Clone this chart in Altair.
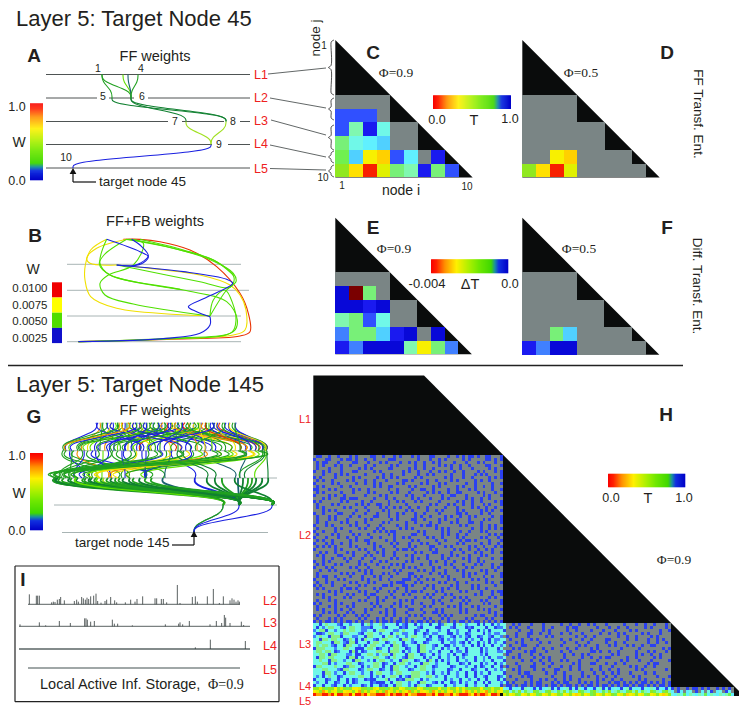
import altair as alt
import pandas as pd

alt.data_transformers.disable_max_rows()

# ---------- palette of the heat-map levels ----------
PAL = {'g': '#7a8585', 'R': '#7a0000', 'r': '#f82000', 'o': '#ffa000', 'O': '#ffd000', 'y': '#f8f000',
       'Y': '#ffe000', 'l': '#e0f000', 'm': '#90e820', 'n': '#70f050', 'p': '#78f078', 'q': '#80f8b0',
       'c': '#70f8e8', 'e': '#60f0ff', 'f': '#50d0ff', 'h': '#4080ff', 'b': '#3050ff', 'B': '#1a1af0',
       'D': '#0808d8', '#': '#2a40f0', 'G': '#86ee88'}
EDGE = {'a': '#1a20e0', 'g': '#20a020', 'l': '#60e000', 'y': '#f0e000', 'o': '#f09000', 'r': '#e83000',
        'd': '#108030', 't': '#1a6070', 'L': '#a0e020'}
BLACK = '#0a0c0c'
GRAY = '#a8b4b4'
INK = '#231f20'

# ---------- small matrices C, D, E, F (node j rows 5..10, node i cols 1..) ----------
C_rows = ['gggg', 'bbbg', 'bqBcgg', 'pcefgg', 'nfyObegB', 'mYrlpqBpb']
D_rows = ['gggg', 'gggg', 'gggggg', 'gggggg', 'ggyOgggg', 'mYrlggggg']
E_rows = ['gggg', 'DRpg', 'DDBDgg', 'qpbcgg', 'hppfBDgD', 'BhDDDqyph']
F_rows = ['gggg', 'gggg', 'gggggg', 'gggggg', 'ggpfgggg', 'BhDDggggg']

# ---------- large matrix H: observed pattern, '.' = no transfer (gray) ----------
H_L2 = [
 '.##..#..#...#.#....##..#...#.#...#.#...##....#..#.#.##.#..##...#',
 '#...##...#.##.#..#..#....###.......#...#..#.#.....#.#.....##.#.#',
 '.#.##...#....##...#...#.#....#..#.#..#..#.#....#...#...#.#...#..',
 '.#.#...#.#..#....#..#.....#.#.....#..#....#.#.#..#..#.....##...#',
 '.#...#...#.....#.#.#.....##.....#.#..#..#.....#..#...#.....#.#..',
 '#..#.#...#...##.....#.#.......#.#..#...#..#.#..#..#....#.#...#.#',
 '...#...#.#.#.....#.....#..#...#....#..#.#.....#...#...#.#.#....#',
 '#.#....#.....#.#.....#.#..#.#.....#.#.......#.#...#..#.....#.#.#',
 '.#.#..#....#.#...#..#...#.....##.#....#..#....#.#.....#.#..#....',
 '#.....#.#.....#..#..#.#.....#.#.....#.#...#.#......#..#.....#..#',
 '.#.#.....#..#.......#.#..##.....#.#.....#.#.....#.#...#..#..#...',
 '##...#.#.....#.#..#......#..#....#..##..#....#..#...#.#.....#..#',
 '.#.#.....#...#....#.#.....#.#...#.....#.#.#..#..##.....#.#...#..',
 '#....#.#..#......#....#.#......#.#...#.....#..##...#.....#.#...#',
 '...#.#...##.###.....#...#..#.....#.#...#...#.#.....#.#..#..#....',
 '#.#......#.#....#..#.....#..#.#...#.#.....#.....#.#..#..#....#.#',
 '.#....#.#.....#.#.#..##..#.....#.......#.#...#.#..#..#...#.#...#',
 '.#.#......#.#....#....#.#..#.#..#..#..#.....#...#....#.#..#..#..',
 '...#.#.#......#...#....#.#.....#.#....#..#.#....#.#.....#.#.#..#',
 '#..#....##...#...#...#...#..#.#...#..#....#.....##.#....#..#....',
 '.#...#.#....#..#....##...#..#.....#.#..#....#.#..#..#.#.....#..#',
 '.#...#.#...#.....#.#......#.#....##..#....#.#...#...#....#.#...#',
 '.#..#....#.#..#..#.....#.#.....#..#....#..#...#.#...##..#......#',
 '#...#.#.....#.#...#...#.....#..#....#.##.#.......#.#....#..#.#..',
 '.#.....#.#.....#.#...#.#.....#.#.#.......#.#.#.......#..#..#.#.#',
 '#..#...#....#.......#.#.#.##.......#.#.....#.#...#..#...#.#.....',
 '.#....#.#....#.#..#......#.#.....##..#.....#.#..#..#.......#.#.#',
 '#...#...#..#..#....#..#....#..#.#.....#.#..#....#.#.....#.#...#.',
 '.#.#..#.....#.#..##.....#..#.....#.#.....#..#....#.##.#....#...#',
 '#...#.#..#..#.....#.#.....#.#...#...#.#...#.....#.#.....#..#..#.',
 '.#.#.#.#....#.#.....#.#....#....#.#....##...#.#.....#.#..#...#.#',
 '#......#.#.....#.#..#..#....#.##.#.....#.#.....#.#..#..#..#.#...',
 '..#.#..#...#.#....#..#.#...#......#.#...##....#...#...#.#...#..#',
 '.#.#....##...#...#.#...#...#...#.#....#....#..#.#...#...#.#.....',
 '...#..#...#.#...#...#.....#.#....#.#..#....#.#....#.#..#....#..#',
 '#..#.#.....#...#...#..#.#......#.#.....#.#..#..#....#..#.#......',
 '.#.#...#.#.....#.#...#....#.#.#.....#..#....#.#...#...#.#...#..#',
 '#...#.#.....#.#...#....#.#....#.#.#.....#.#....#...#.#......#.#.',
 '..#..#.#.......#.#.#.......#.#.....#.#..#...#...#.#.....#.#..#..',
 '.#.......#.#.#...#.#...#.#..#...##.....#..#.#.....#.#.#...#....#',
 '.#.##..#....#...#...#.#...#.....#.#.#......#.#....#.#....#..#..#',
 '#...#...#.#.....#.#...#..#....###..#..#.#....#.#.....#.#..#.....',
 '.#..#.#.....#.#...#.#.....#.###...#.#.....#.#...#..#......#.#..#',
 '#.#...#...#....#.#.....##.#...##.#....#.#.....#.#....#.#.....#..',
 '.#.#.....#.##.#.....#.#.....#..#.....#..#..#.#..#....#.#..#.....',
 '.....#.#.#.....#.#...#...#.#...#.##.#....#.#.....#.#....#...#.##',
 '.#.#...#...#.#...#.##.....#...#.#.....#.#...#.#.......#.#...#..#',
 '...#.#....#.#.....#..#..#..#......#..#.#...#...#.#.#.......#.#..',
 '.#...#.#.......#.#...#.#.....#.#.#......#.#...#...#.#...#.#....#',
 '#.#....#.#...#.....#.#.....#.#...#..#...#..#.....#.#.....#.#...#',
 '.#...#.#...#.#......#.#...#..#.#.....#.#.....#.#.#...#.#.....#..',
 '.#.#...#.#..#....#.#....#..#....##..#....#.#.....#.#...#.#.#...#',
 '...#.#.#...#.#...#....#.#..#...#.....#..##.#.....#.#.......#.#..',
 '#.#.....#.#...#.#.#.....#..#....#.#.#.....#.#.#.......#.##...#.#',
 '.#...#.#.#.....#.#...#.#..#..#.#.....#.#...#.#.....#.#....#.#...',
 '#.#.##.#.#.##.#.#..#.#.##.#.##.#.#.##.#.#.#..#.#.##.#.##.#.#.#.#',
]
H_L3L = [
 'cc#cGccch#cchccc#cGhccGhcccc#ch#cc#chcc#cc#hGcc#cGchccc#c#cc#chc',
 'c#chcGGcch#cGGcchhh#ccch#cccc#h#ccch#cccc##ccch#ccc#h#cccc#cc#hh',
 'hcGG#cchccGcGGcchhcc#cGGccchhcGccc#hcc#ccchcc#cchccc#cc#chc#cccc',
 'c##hcGGcchGGccch#cGGcchccc#cGchhcc#cc#hchhccc##chcc#hcccc#chchhc',
 'hcGcc#GGG#ccchhcc#GGccc#cGGchcchcGGcchc#cc#hcch#chch#cc#hcch#cch',
 'cc#GGcGGcc#hGc#c#Gcch#cGGcccc#GGchcccc#hcch#chchccc#chcc#cc#chhc',
 'cGGccc#GGch#GG#ccc#cGGcc#hcGcc#cch#cc#hcccc#cchhch#c#cc#chc#chcc',
 'cGcGGch#cc#GGcchc#cGGcchcc#GGc#hccc#GGcch#cc##chcchcc#c#c#cc#cch',
 '#GGGccchccGGcc###cGGc#hcc#cGGcc#hcc#GGcchcc#chcc#cc#cccc#chccc#c',
 'cGGcGGc#hccc#G#c#hcccGGcc#GGGc#chcc#GGchcc#ccc#chhc#cccc#chccchh',
 'ccGGc#GGccchhc##ccGGchcGGc#Gccc#GGcc#hcc#chcchc#cc#hcccchc#ccccc',
 'c#GGcGGcccc#GG#chcccGGcch#cGcch#GGccc#chcc#cchcc#chccc#cchc#cchh',
 'ccGcc#GGcchcc#GGcchc#cGGcchcc#GGcc#hcc#Gc#c#chcc#cchcc#cchcc#ccc',
 'cccGG#chcccGGcc#hcccGGc#hcc#cGGchccc#GGcchccc#ccc#hc#ccc#chcc#ch',
 '#GGccccGcc#hGGcc#chcGGc#cc#GGcchcc#cGGcc#hcccc#hccchcc#c#hcc#cc#',
 'cccGGccch#GGccc#hcGGcc#hcc#GGccc#hccGGcchcccc#hcc#ccc#hccc#cchch',
 'ccc#GGchcc#cGGcchcc#cGGccchcGGcccGGGcchc#cchc#cchcc#cc#chcc#cccc',
 'chc#cGcc#hcccccGGcc#chc#ccGGc#ch#GGGccGGchcc#ccchcc#cc#cch#ccc#h',
 '#ccc#hcc#cc#c#hcc#h##cccG#cc#h#GGGcc#chccccc#chcc#cchcc#cc#ccc#c',
 'chcc#cc#hcc#c#hcccc#h###cc#cGGcchcc#GGcch#c#cc#hc#chcc#cc#c#ccch',
 '#cc#cch#cc#chccc#hc#cc#h#cc#GGcchc#Gcc#hcccc#cchccc#cchccc#cccc#',
]
H_L4L = [
 'mmlmnmmymlmnmyylmmnmlymmnmlmmylmnmmylmnmmmymnlmmymlmnmmmymnmlmmy',
 'ylmoymlymmyYlmyomlmYymlmoylmYmlyomlmYylmoymlmyYmlmyolmYmlyomlmYy',
]
H_L5L = ['roorroryrrooryrroryoorrroyrorroryoorrrooryrrooryorrroyrorroyrro']
H_L3R = [
 'c..#.#...#...#.....#..#..#..#.#...#.....#...#..#..#...#.',
 'c.#.#...#....#..#....#.##......#...#..#..#.....#.#....#.',
 '#....#...#...#.#.....#..#....#...#...#....#.#.......#..#',
 'c...#...##..#..#...#..#...#.....#..#..#.#.....#.#...#...',
 '.#..#...#.....#.#.......#..#..#.......#..#..#....#.#....',
 'c.#...#..#.#.......#..#...#..#....##.....#..#...#..#.#..',
 '#...#.#.....#..#....#...#...#.....#..#..#.......#..#..#.',
 'c.#...##...#.......#.....#.#...#...#.#...#.#..#..##.....',
 '...#.#....#..#..#....#..#....#.#.......#.....#.......#.#',
 'c##....#.##...#....#..#......##.#..#..#.....#...#.#...#.',
 '.#...#...#..#.......#..#..#.#.......#.#.....#.#..#..#...',
 'c..#.#....#..#.#....#.....#..#..#.##.....#..#.....#.#...',
 '#.....#..#..#..#...#.#...#.....#.......#.#...#...#.....#',
 'c...#.....#..#..#......#.#...##...#..#..#.......#.##....',
 '.#...#...##....#...#..#..#......#...#.....#.#..#..#.....',
 'c..#.#....#..#...##...#..#...#..#..#..#.....#.#.......#.',
 '#....#.##.....#..#..#.....#...#..#..#.#...#....#..#.....',
 'c.#...#.##......#...#.#...#.#..#..#..#.....#.#.....#...#',
 '#...#....#..#.#..#..#.#..#.....#.#..#..#.....#.#.....#..',
 'c#.#...#.#.##...#.#.##...#.#.#.#...#.##.#.#.#.##.#.#.#.#',
 '.##.#.##.#.##.#.##.#.##.#.#.##.#.##.#.#.##.#.##.#.#.##.#',
]
H_L4M = [
 'ce#cec#qce#c#ecq#c#ecq#c#qe#ce#cq#c#ece#cq#cec#ceqc#ce#c',
 'nmcnqmcnqcmnqcnmqcnqmcnqcmnqcnmqcnqmcqnqcnmqmcnqcmnqcnmq',
]
H_L5M = ['lmylmnylmylnmylmylmnylmyOlmylnmylmylmnylmOylmylnmylmyOlm']
H_L4R = ['#.#..#.##.#.#..#.#.#.', 'e.#e.ec.#.e.c#.ec.#e.']
H_L5R = ['ceqcneqceqcneqceqcqne']

# ---------- curves as (source x, target x, colour) per layer pair ----------
A_edges = [(102, 74.5, 112, 98, 'g'), (102, 74.5, 131, 98, 'g'), (123, 74.5, 131, 98, 'l'),
           (128, 74.5, 131, 98, 't'), (138, 74.5, 131, 98, 'g'), (112, 98, 226, 121.5, 'd'),
           (131, 98, 186, 121.5, 'd'), (131, 98, 226, 121.5, 'd'), (186, 121.5, 211, 144.5, 'L'),
           (226, 121.5, 211, 144.5, 'L'), (211, 144.5, 73, 168, 'a')]
G_12 = [(96, 66, 'a'), (100, 82, 'o'), (103, 120, 'g'), (106, 64, 'g'), (108, 143, 'a'), (110, 88, 'y'), (113, 95, 'a'),
        (115, 70, 'l'), (118, 140, 'g'), (119, 105, 'o'), (121, 78, 'g'), (123, 175, 'r'), (125, 114, 'a'), (127, 132, 'g'),
        (129, 91, 'l'), (131, 200, 'g'), (133, 128, 'y'), (135, 72, 'a'), (137, 155, 'g'), (139, 110, 'a'), (141, 180, 'o'),
        (143, 118, 'l'), (145, 210, 'a'), (147, 150, 'g'), (149, 98, 'g'), (151, 170, 'y'), (153, 137, 'a'), (155, 220, 'g'),
        (157, 85, 'l'), (159, 190, 'g'), (161, 126, 'a'), (163, 245, 'o'), (165, 160, 'g'), (167, 140, 'r'), (169, 205, 'a'),
        (171, 112, 'g'), (173, 230, 'y'), (175, 178, 'g'), (177, 100, 'a'), (179, 250, 'g'), (181, 148, 'l'), (183, 215, 'a'),
        (185, 258, 'r'), (187, 124, 'g'), (189, 197, 'o'), (191, 240, 'g'), (193, 165, 'a'), (195, 262, 'y'), (197, 135, 'l'),
        (199, 225, 'g'), (201, 186, 'a'), (203, 255, 'o'), (205, 152, 'g'), (207, 264, 'g'), (209, 212, 'l'), (211, 245, 'a'),
        (213, 172, 'g'), (215, 262, 'a'), (217, 235, 'y'), (220, 266, 'r'), (223, 258, 'g'), (226, 266, 'a'), (229, 250, 'a'),
        (233, 266, 'g'), (236, 262, 'a'),
        (98, 140, 'a'), (102, 100, 'g'), (112, 180, 'a'), (117, 66, 'g'), (122, 150, 'y'), (128, 66, 'o'), (134, 190, 'a'),
        (140, 80, 'g'), (146, 125, 'a'), (152, 230, 'g'), (158, 108, 'a'), (164, 82, 'g'), (170, 132, 'a'), (176, 245, 'o'),
        (182, 158, 'a'), (188, 262, 'g'), (194, 116, 'g'), (200, 205, 'y'), (206, 240, 'r'), (212, 150, 'a'), (218, 255, 'a'),
        (224, 196, 'g'), (230, 265, 'y'), (235, 240, 'g')]
G_23 = [(63, 96, 'g'), (66, 118, 'g'), (70, 84, 'a'), (74, 150, 'g'), (78, 108, 'o'), (84, 74, 'a'), (88, 128, 'g'), (93, 145, 'a'),
        (98, 62, 'g'), (103, 102, 'l'), (108, 90, 'a'), (113, 145, 'g'), (118, 163, 'g'), (124, 145, 'a'), (130, 93, 'g'),
        (136, 112, 'y'), (142, 146, 'a'), (148, 122, 'g'), (154, 58, 'g'), (160, 82, 'a'), (166, 146, 'g'), (172, 195, 'a'),
        (178, 68, 'g'), (186, 92, 'y'), (192, 147, 'g'), (198, 76, 'l'), (205, 235, 't'), (212, 56, 'g'), (218, 130, 'y'),
        (224, 88, 'g'), (232, 100, 'y'), (240, 62, 'g'), (246, 240, 't'), (250, 118, 'y'), (255, 145, 'l'), (260, 56, 'g'),
        (264, 245, 'd'), (266, 255, 'l'), (267, 268, 'd'), (262, 240, 'g'), (170, 165, 't'), (178, 207, 'd'), (184, 215, 'd'),
        (72, 70, 'g'), (82, 60, 'g'), (96, 110, 'a'), (110, 70, 'g'), (122, 125, 'a'), (134, 90, 'g'), (146, 145, 'a'),
        (158, 66, 'g'), (168, 100, 'y'), (180, 78, 'g'), (190, 146, 'a'), (204, 112, 'o'), (216, 70, 'g'), (228, 92, 'l'),
        (238, 60, 'g'), (248, 100, 'y'), (258, 78, 'g'), (242, 130, 'g')]
G_34 = [(55, 272, 'd'), (56, 272, 'g'), (58, 272, 'd'), (60, 239, 'g'), (72, 239, 'g'), (78, 272, 'd'), (84, 272, 'g'), (90, 239, 'd'),
        (96, 272, 'g'), (104, 223, 'L'), (112, 272, 'd'), (120, 272, 'g'), (130, 239, 'd'), (146, 272, 'g'), (163, 239, 't'),
        (195, 239, 'a'), (207, 239, 'd'), (215, 239, 'd'), (222, 239, 'g'), (238, 239, 't'), (243, 239, 'd'), (248, 239, 'g'),
        (252, 239, 'g'), (256, 239, 'd'), (262, 239, 'd'), (268, 239, 'd'), (235, 272, 'd'), (98, 272, 'l'),
        (55, 223, 'g'), (57, 239, 'd'), (64, 272, 'g'), (70, 272, 'd'), (76, 223, 'l'), (86, 239, 'g'), (92, 272, 'd'), (102, 239, 'g'),
        (108, 272, 'g'), (116, 223, 'g'), (124, 272, 'd'), (134, 272, 'g'), (140, 239, 'd'), (152, 272, 'g')]
G_45 = [(223, 't'), (223, 'g'), (239, 'a'), (272, 'a')]

# open curves, way-points in crop units of panel B, lower line = target
B_curves = [
 ('r', [(235, 425), (500, 418), (720, 408), (750, 395), (745, 340), (720, 280), (650, 200), (570, 150), (480, 125), (420, 118), (370, 118)]),
 ('y', [(235, 425), (500, 417), (700, 405), (735, 390), (738, 330), (720, 285), (690, 255), (600, 225), (450, 205), (350, 195)]),
 ('y', [(320, 118), (272, 150), (256, 195), (255, 240), (272, 290), (350, 325), (630, 348)]),
 ('y', [(380, 118), (290, 145), (260, 175), (270, 190), (350, 195)]),
 ('l', [(630, 348), (400, 312), (315, 285), (300, 250), (325, 225), (400, 195), (430, 130), (385, 118)]),
 ('l', [(320, 118), (300, 190), (330, 225), (550, 270), (680, 305), (712, 360), (700, 395), (500, 415), (235, 425)]),
 ('l', [(235, 425), (500, 417), (695, 397), (708, 360), (698, 310), (675, 270), (640, 300), (630, 348)]),
 ('l', [(380, 118), (500, 140), (620, 175), (700, 220), (708, 245), (680, 270), (630, 348)]),
 ('l', [(420, 118), (550, 150), (650, 185), (702, 232), (690, 262), (600, 245), (400, 205), (350, 195)]),
 ('l', [(395, 118), (520, 145), (640, 180), (700, 225)]),
 ('l', [(380, 118), (312, 165), (298, 192), (330, 225), (540, 268)]),
 ('a', [(320, 118), (420, 155), (445, 170), (430, 188), (400, 197), (350, 195)]),
 ('a', [(395, 118), (425, 140), (445, 168), (420, 190), (400, 197)]),
 ('a', [(350, 195), (550, 215), (680, 238), (698, 250), (620, 292), (565, 320), (590, 335), (630, 350)]),
 ('a', [(630, 350), (630, 375), (600, 400), (500, 415), (235, 425)]),
]

# local active information storage spikes, (x, height) in crop units of panel I
I_L2 = [(88, 30), (109, 26), (113, 26), (118, 26), (155, 6), (160, 8), (165, 7), (172, 14), (178, 16), (182, 22), (193, 12), (223, 10),
        (230, 14), (235, 8), (245, 22), (250, 18), (256, 14), (261, 20), (266, 16), (272, 24), (281, 26), (288, 32), (293, 10), (303, 5),
        (315, 10), (320, 14), (332, 22), (344, 12), (350, 6), (376, 6), (392, 14), (405, 8), (411, 16), (428, 24), (465, 18), (470, 18),
        (484, 16), (490, 16), (500, 6), (532, 58), (540, 4), (577, 22), (586, 24), (592, 8), (622, 24), (640, 46), (658, 4), (670, 24),
        (690, 12), (696, 18), (702, 14), (708, 8), (714, 12), (718, 8)]
I_L3 = [(60, 6), (118, 12), (137, 3), (178, 16), (211, 10), (254, 24), (258, 24), (262, 20), (272, 14), (283, 16), (337, 20), (343, 8),
        (353, 8), (397, 3), (496, 6), (536, 8), (540, 12), (548, 6), (568, 16), (630, 6), (649, 16), (665, 10), (673, 34), (677, 26),
        (690, 10), (724, 14), (731, 4)]
I_L4 = [(586, 5), (631, 28), (736, 24)]

# colour-bar stops (position along bar, colour)
BAR_POS = [0, .07, .18, .33, .5, .62, .78, .83, .88, 1]
BAR_COL = ['#f80000', '#ff2000', '#ff9000', '#fff000', '#a8f000', '#70e800', '#40d800', '#1890a0', '#1030e0', '#0000c8']
BLOCK_B = ['#f00000', '#ffff00', '#50dd00', '#1010cc']

# ---------- tables ----------
rects, lines, curves_b, curves_c, rules, areas, texts = [], [], [], [], [], [], []


def rect(x0, x1, y0, y1, c):
    rects.append(dict(x=x0, x2=x1, y=y0, y2=y1, c=c))


def cells(rows, x0, y0, w, h):
    for r, row in enumerate(rows):
        for k, ch in enumerate(row):
            if ch != '.':
                rect(round(x0 + k * w), round(x0 + (k + 1) * w), round(y0 + r * h), round(y0 + (r + 1) * h), PAL[ch])


def area(pid, pts):
    for x, y, y2 in pts:
        areas.append(dict(id=pid, x=x, y=y, y2=y2))


def rule(x, y, x2, y2, c=INK, w=1.0):
    rules.append(dict(x=x, y=y, x2=x2, y2=y2, c=c, w=w))


def scurve(store, pid, x1, y1, x2, y2, c, w, over=0.0):
    d = y2 - y1
    s = over * (x2 - x1)
    pts = [(x1, y1)] * 3 + [(x1 - s, y1 + .3 * d), (x2 + s, y1 + .7 * d)] + [(x2, y2)] * 3
    for o, (x, y) in enumerate(pts):
        store.append(dict(id=pid, o=o, x=x, y=y, c=c, w=w))


def way(store, pid, pts, c, w):
    for o, (x, y) in enumerate(pts):
        store.append(dict(id=pid, o=o, x=x, y=y, c=c, w=w))


def text(x, y, t, size, c=INK, font='Liberation Sans', weight='normal', angle=0, align='center'):
    texts.append(dict(x=x, y=y, t=t, s=size, c=c, font=font, weight=weight, angle=angle, align=align))


# matrices
for name, (x0, y0, rows, cw) in {'C': (335.3, 40, C_rows, 13.74), 'D': (522.3, 40, D_rows, 13.74),
                                 'E': (335.3, 217.7, E_rows, 13.66), 'F': (522.3, 217.7, F_rows, 13.7)}.items():
    area(name, [(x0, y0, y0 + 10 * cw), (x0 + 10 * cw, y0 + 10 * cw, y0 + 10 * cw)])
    cells(rows, x0, y0 + 4 * cw, cw, cw)

area('H', [(313.3, 375.5, 696), (424, 375.5, 696), (744, 696, 696)])
rect(313, 503, 455, 623, PAL['g'])
rect(503, 671, 623, 687, PAL['g'])
rect(671, 734, 687, 693, PAL['g'])
cw = 190 / 64
cells(H_L2, 313.3, 455.3, cw, 167.4 / 56)
cells(H_L3L, 313.3, 622.7, cw, 64 / 21)
cells(H_L4L, 313.3, 686.7, cw, 3.15)
cells(H_L5L, 313.3, 693, cw, 3.0)
cm = 167.7 / 56
cells(H_L3R, 503.3, 622.7, cm, 64 / 21)
cells(H_L4M, 503.3, 686.7, cm, 3.15)
cells(H_L5M, 503.3, 693, cm, 3.0)
cells(H_L4R, 671, 686.7, 3, 3.15)
cells(H_L5R, 671, 693, 3, 3.0)


def mix(t):
    for k in range(len(BAR_POS) - 1):
        if BAR_POS[k] <= t <= BAR_POS[k + 1]:
            f = (t - BAR_POS[k]) / (BAR_POS[k + 1] - BAR_POS[k])
            a, b = BAR_COL[k], BAR_COL[k + 1]
            ch = [round(int(a[i:i + 2], 16) * (1 - f) + int(b[i:i + 2], 16) * f) for i in (1, 3, 5)]
            return '#%02x%02x%02x' % tuple(ch)
    return BAR_COL[-1]


def bar(x0, x1, y0, y1, horizontal=True):
    n = 77
    for k in range(n):
        c = mix((k + .5) / n)
        if horizontal:
            rect(x0 + k * (x1 - x0) / n, x0 + (k + 1) * (x1 - x0) / n + .3, y0, y1, c)
        else:
            rect(x0, x1, y0 + k * (y1 - y0) / n, y0 + (k + 1) * (y1 - y0) / n + .3, c)


bar(433, 510.7, 95.3, 109)
bar(431, 508, 259.3, 273.3)
bar(608, 685, 473.7, 487.3)
bar(30, 43, 103.3, 180, horizontal=False)
bar(30, 43, 453, 530, horizontal=False)
for k, c in enumerate(BLOCK_B):
    rect(52, 62, 282.3 + k * 15.2, 282.3 + (k + 1) * 15.2, c)

# panel A guide lines
for x1, x2, y in [(46, 250, 74.5), (46, 97, 98), (109, 134, 98), (148, 250, 98), (46, 168, 121.5), (182, 224, 121.5),
                  (240, 250, 121.5), (46, 212, 144.5), (228, 250, 144.5), (46, 250, 168)]:
    rule(x1, y, x2, y, '#3a4040', 0.9)
# connectors from layer labels to the matrix
for x1, y1, x2, y2 in [(268, 74, 326, 68), (270, 98, 326, 108), (271, 120, 326, 135), (270, 145, 326, 157), (270, 168.5, 326, 170)]:
    rule(x1, y1, x2, y2, '#3a4040', 0.8)
# panel B and G guides
for x1, x2, y in [(67, 241, 264.3), (67, 249, 290.3), (67, 241, 316), (67, 241, 341.7),
                  (62, 267, 450.7), (54, 277, 478), (54, 277, 505), (62, 268, 532.5)]:
    rule(x1, y, x2, y, GRAY, 1.0)
rule(8, 365.5, 683, 365.5, '#222', 1.6)
# panel I box
for a in [(15, 566, 279, 566), (15, 701.7, 279, 701.7), (15, 566, 15, 701.7), (279, 566, 279, 701.7)]:
    rule(*a, '#222', 1.2)
rule(28, 604.3, 240, 604.3, '#303838', .8)
rule(19, 626.3, 250, 626.3, '#303838', .8)
rule(19, 649, 250, 649, '#5a6464', 1.6)
rule(28, 668, 240, 668, '#808a8a', 1.3)
for spikes, base in [(I_L2, 148), (I_L3, 214), (I_L4, 282)]:
    for x, h in spikes:
        rule(x / 3, 555 + base / 3, x / 3, 555 + (base - h) / 3, '#303838', .8)
# arrows
rule(96, 182, 73, 182, '#111', 1.2)
rule(73, 182, 73, 172, '#111', 1.2)
rule(172, 545, 194, 545, '#111', 1.2)
rule(194, 545, 194, 536, '#111', 1.2)
heads = pd.DataFrame(dict(x=[73, 194], y=[171, 534]))

# curves
n = 0
for x1, y1, x2, y2, k in A_edges:
    n += 1
    scurve(curves_b, n, x1, y1, x2, y2, EDGE[k], 1.1)
for x1, x2, k in G_12:
    n += 1
    scurve(curves_b, n, x1, 422.7, x2, 450.7, EDGE[k], 1.1, over=.1)
for x1, x2, k in G_23:
    n += 1
    scurve(curves_b, n, x1, 450.7, x2, 478, EDGE[k], 1.1, over=.12)
for x1, x2, k in G_34:
    n += 1
    scurve(curves_b, n, x1, 478, x2, 505, EDGE[k], 1.8, over=.04)
for x2, k in G_45:
    n += 1
    scurve(curves_b, n, x2, 505, 194, 532.5, EDGE[k], 1.1)
for k, pts in B_curves:
    n += 1
    way(curves_c, n, [(x / 3, 200 + y / 3) for x, y in pts], EDGE[k] if k != 'l' else '#50e000', 1.1)
# braces
for ya, yb in [(40, 95), (98, 120), (125, 150), (151, 163), (165, 177)]:
    n += 1
    m = (ya + yb) / 2
    way(curves_c, n, [(334, ya), (331.5, ya + 1.5), (331, ya + 3), (331, m - 2), (328.5, m), (331, m + 2), (331, yb - 3), (331.5, yb - 1.5), (334, yb)], '#222', .8)

# text
text(16, 19, 'Layer 5: Target Node 45', 22, align='left')
text(16, 385, 'Layer 5: Target Node 145', 22, align='left')
for x, y, t in [(34, 56, 'A'), (35, 236, 'B'), (373, 53, 'C'), (667, 53, 'D'), (373, 228, 'E'), (667, 228, 'F'),
                (34, 417, 'G'), (666, 415, 'H'), (23, 580, 'I')]:
    text(x, y, t, 19, weight='bold')
text(155, 56.5, 'FF weights', 14.5)
text(155, 222, 'FF+FB weights', 14.5)
text(155, 411, 'FF weights', 14.5)
text(99, 182, 'target node 45', 13.5, align='left')
text(75, 543, 'target node 145', 13.5, align='left')
for x, y, t in [(98, 69, '1'), (141, 69, '4'), (103, 97, '5'), (142, 97, '6'), (175, 122, '7'), (233, 122, '8'), (219, 144.5, '9'),
                (66, 158, '10')]:
    text(x, y, t, 10.5)
for y, t in [(75, 'L1'), (98, 'L2'), (121, 'L3'), (144, 'L4'), (169, 'L5')]:
    text(261, y, t, 12.5, c='#ee2020')
for y, t in [(601, 'L2'), (623, 'L3'), (646, 'L4'), (670, 'L5')]:
    text(270, y, t, 12.5, c='#ee2020')
for y, t in [(420, 'L1'), (536, 'L2'), (645, 'L3'), (687, 'L4'), (702, 'L5')]:
    text(305, y, t, 11, c='#ee2020')
text(316, 38, 'node j', 13.5, angle=270)
text(324, 46, '1', 10)
text(323, 178, '10', 10)
text(342, 186, '1', 10)
text(467, 187, '10', 10)
text(401, 191, 'node i', 14)
for x, y, t, s in [(437, 120, '0.0', 12.5), (474, 121, 'T', 14.5), (510, 119, '1.0', 12.5),
                   (427, 284, '-0.004', 13), (470, 285, '\u0394T', 14.5), (510, 284, '0.0', 12.5),
                   (611, 498, '0.0', 12.5), (648, 499, 'T', 14.5), (684, 498, '1.0', 12.5),
                   (17, 107, '1.0', 12.5), (19, 143, 'W', 14), (17, 181, '0.0', 12.5),
                   (17, 456, '1.0', 12.5), (19, 494, 'W', 14), (17, 531, '0.0', 12.5), (33, 270, 'W', 14)]:
    text(x, y, t, s)
for y, t in [(289, '0.0100'), (306, '0.0075'), (322, '0.0050'), (339, '0.0025')]:
    text(47.5, y, t, 11.5, align='right')
for x, y, t in [(396, 73, '\u03a6=0.9'), (581, 73, '\u03a6=0.5'), (394, 249, '\u03a6=0.9'), (579, 249, '\u03a6=0.5'),
                (674, 560, '\u03a6=0.9')]:
    text(x, y, t, 13.5, font='Liberation Serif')
text(698, 114, 'FF Transf. Ent.', 13.5, angle=90)
text(697, 286, 'Diff. Transf. Ent.', 13.5, angle=90)
text(40, 685, 'Local Active Inf. Storage,', 14.5, align='left')
text(208, 685, '\u03a6=0.9', 14, font='Liberation Serif', align='left')

# ---------- chart ----------
X = alt.X('x:Q', scale=alt.Scale(domain=[8, 739], nice=False, zero=False), axis=None)
Y = alt.Y('y:Q', scale=alt.Scale(domain=[8, 709], nice=False, zero=False, reverse=True), axis=None)
NOC = alt.Color('c:N', scale=None)
layers = []
layers.append(alt.Chart(pd.DataFrame(areas)).mark_area(color=BLACK, interpolate='linear').encode(
    X, Y, y2=alt.Y2('y2:Q'), detail='id:N'))
layers.append(alt.Chart(pd.DataFrame(rects)).mark_rect(strokeWidth=0).encode(
    X, Y, x2=alt.X2('x2:Q'), y2=alt.Y2('y2:Q'), color=NOC))
layers.append(alt.Chart(pd.DataFrame(rules)).mark_rule().encode(
    X, Y, x2=alt.X2('x2:Q'), y2=alt.Y2('y2:Q'), color=NOC, strokeWidth=alt.StrokeWidth('w:Q', scale=None)))
for store, interp in [(curves_b, 'basis'), (curves_c, 'catmull-rom')]:
    layers.append(alt.Chart(pd.DataFrame(store)).mark_line(interpolate=interp).encode(
        X, Y, color=NOC, detail='id:N', order='o:Q', strokeWidth=alt.StrokeWidth('w:Q', scale=None)))
layers.append(alt.Chart(heads).mark_point(shape='triangle-up', filled=True, size=45, color='#111', opacity=1).encode(X, Y))
tdf = pd.DataFrame(texts)
for (font, weight, angle, align), g in tdf.groupby(['font', 'weight', 'angle', 'align']):
    layers.append(alt.Chart(g).mark_text(font=font, fontWeight=weight, angle=int(angle), align=align, baseline='middle').encode(
        X, Y, text='t:N', color=NOC, size=alt.Size('s:Q', scale=None)))

chart = alt.layer(*layers).properties(width=731, height=701, padding=0, autosize=alt.AutoSizeParams(type='none')).configure_view(stroke=None)
chart.save("out.html", embed_options={"renderer": "svg", "actions": False})
